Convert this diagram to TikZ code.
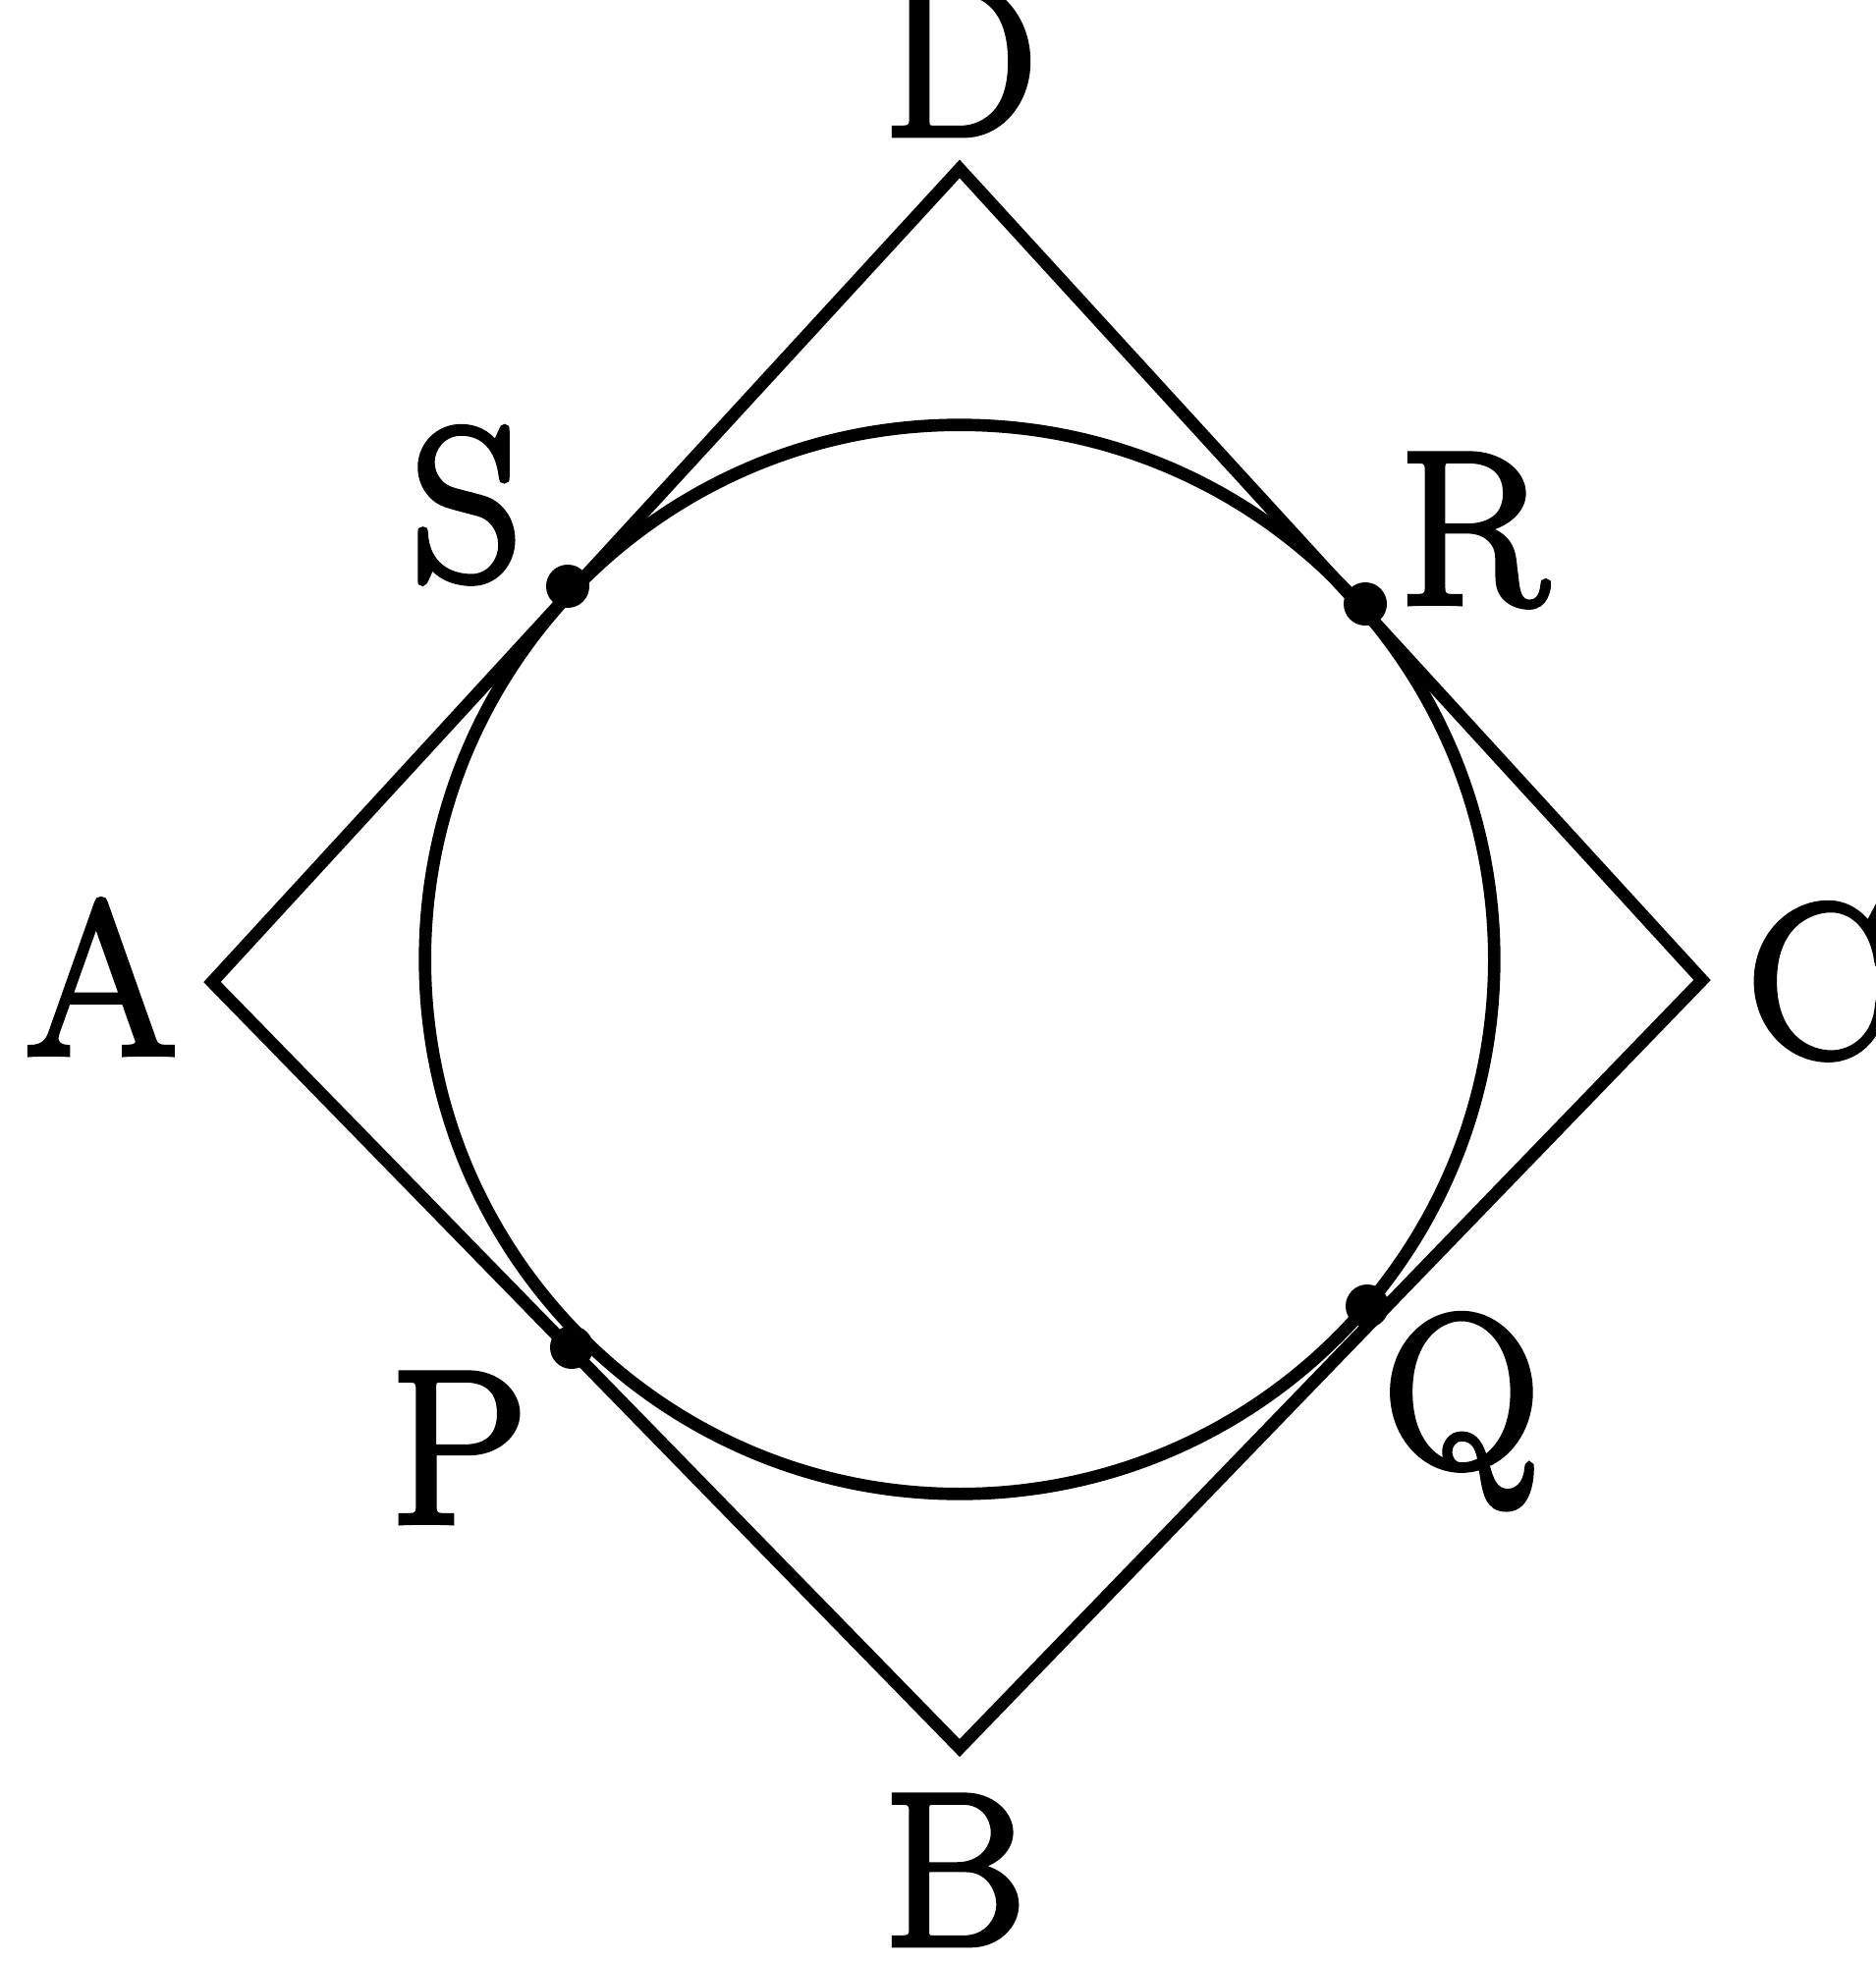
\documentclass[tikz,border=0pt]{standalone}
\usepackage{fontspec}
\newfontfamily\lbl[FakeBold=3]{Latin Modern Roman}
\begin{document}
\begin{tikzpicture}[x=0.01cm,y=-0.01cm,
  edge/.style={line width=3.6pt,line join=miter},
  ring/.style={line width=3.6pt},
  tdot/.style={circle,fill=black,inner sep=0pt,minimum size=0.44cm},
  lab/.style={anchor=base,inner sep=0pt,font=\lbl\fontsize{63}{70}\selectfont}]
\useasboundingbox (0,0) rectangle (1909,2000);
\coordinate (A) at (216,1000);
\coordinate (D) at (977,172);
\coordinate (C) at (1733,998);
\coordinate (B) at (977,1780);
\coordinate (O) at (977,977);
\draw[edge] (A) -- (D) -- (C) -- (B) -- cycle;
\draw[ring] (O) circle[radius=5.44cm];
\node[tdot] (S) at (578,597) {};
\node[tdot] (R) at (1390,615) {};
\node[tdot] (P) at (582,1372) {};
\node[tdot] (Q) at (1392,1330) {};
\node[lab] (lD) at (978,137) {D};
\node[lab] (lS) at (475,590) {S};
\node[lab] (lR) at (1500,614) {R};
\node[lab] (lA) at (103,1073) {A};
\node[lab,anchor=base west] (lC) at (1778,1075) {C};
\node[lab] (lP) at (467,1550) {P};
\node[lab] (lQ) at (1488,1493) {Q};
\node[lab] (lB) at (972,1980) {B};
\end{tikzpicture}
\end{document}
